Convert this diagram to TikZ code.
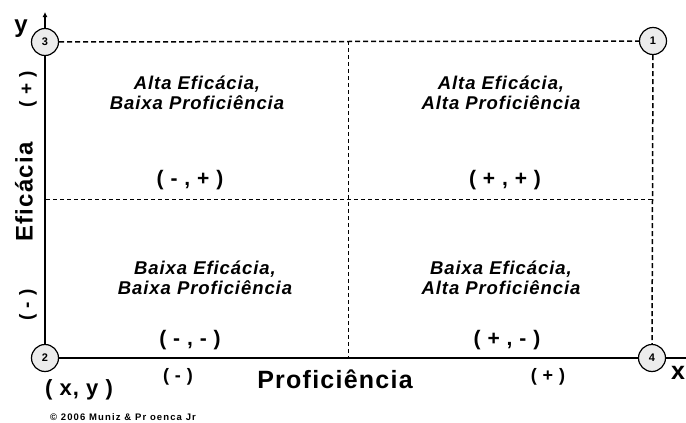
\documentclass[tikz,border=0pt]{standalone}
\usepackage{fontspec}
\setmainfont{Liberation Sans}[LetterSpace=5]
\usetikzlibrary{arrows.meta,positioning,calc}

\begin{document}
\begin{tikzpicture}[x=1pt,y=-1pt,>=latex,
  corner/.style={circle,draw,line width=1.2pt,fill=gray!15,inner sep=0pt,minimum size=27pt,font=\bfseries\fontsize{11}{11}\selectfont},
  quad/.style={align=center,font=\bfseries\itshape\fontsize{18.5}{20}\selectfont},
  sign/.style={font=\bfseries\fontsize{21}{21}\selectfont},
  axlab/.style={font=\bfseries\fontsize{25}{25}\selectfont},
  borda/.style={line width=1.5pt,dash pattern=on 5pt off 3pt},
  meio/.style={line width=1pt,dash pattern=on 4pt off 3pt}]
  \useasboundingbox (0,0) rectangle (686,423);
  % cantos
  \node[corner] (c1) at (653,41) {1};
  \node[corner] (c2) at (45,358) {2};
  \node[corner] (c3) at (45,42) {3};
  \node[corner] (c4) at (652,358) {4};
  \coordinate (ytip) at (45,12);
  \coordinate (xend) at (686,358);
  % eixos
  \draw[line width=2pt] (c2)--(c3);
  \draw[line width=1.6pt,-{Latex[length=5pt,width=5pt]}] (c3)--(ytip);
  \draw[line width=2pt] (c2)--(c4);
  \draw[line width=2pt] (c4)--(xend);
  % bordas e divisoes
  \draw[borda] (c3)--(c1);
  \draw[borda] (c1)--(c4);
  \draw[meio] (348,41)--(348,358);
  \draw[meio] (46,199)--(653,199);
  % quadrantes
  \node[quad] (q1) at (501,93) {Alta Eficácia,\\Alta Proficiência};
  \node[quad] (q2) at (197,93) {Alta Eficácia,\\Baixa Proficiência};
  \node[quad] (q3) at (205,278) {Baixa Eficácia,\\Baixa Proficiência};
  \node[quad] (q4) at (501,278) {Baixa Eficácia,\\Alta Proficiência};
  \node[sign] (s1) at (505,180) {( + , + )};
  \node[sign] (s2) at (190,180) {( - , + )};
  \node[sign] (s3) at (190,340) {( - , - )};
  \node[sign] (s4) at (507,340) {( + , - )};
  % rotulos dos eixos
  \node[axlab,font=\bfseries\fontsize{24}{24}\selectfont] (ly) at (21,29) {y};
  \node[axlab] (lx) at (678,373) {x};
  \node[axlab,rotate=90,font=\bfseries\fontsize{24}{24}\selectfont] (lef) at (24,192) {Eficácia};
  \node[axlab] (lpr) at (335,379) {Proficiência};
  \node[sign,rotate=90,font=\bfseries\fontsize{19}{19}\selectfont] (yp) at (28,89) {( + )};
  \node[sign,rotate=90,font=\bfseries\fontsize{19}{19}\selectfont] (ym) at (28,305) {( - )};
  \node[sign,font=\bfseries\fontsize{18}{18}\selectfont] (xm) at (178,377) {( - )};
  \node[sign,font=\bfseries\fontsize{18}{18}\selectfont] (xp) at (548,377) {( + )};
  \node[sign,font=\bfseries\fontsize{22}{22}\selectfont] (xy) at (79,390) {( x, y )};
  \node[font=\bfseries\fontsize{9.5}{9.5}\selectfont\addfontfeatures{LetterSpace=12}] (cr) at (123,417) {© 2006 Muniz \& Pr oenca Jr};
\end{tikzpicture}
\end{document}
